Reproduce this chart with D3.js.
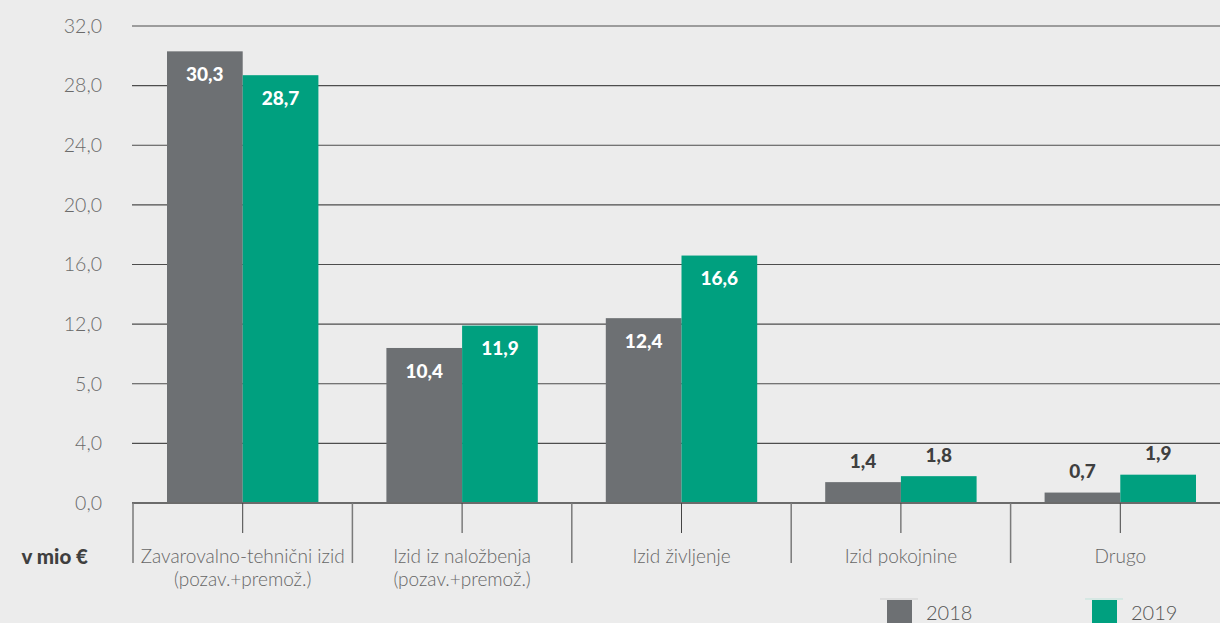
<!DOCTYPE html>
<html><head><meta charset="utf-8">
<script src="https://cdn.jsdelivr.net/npm/d3@7"></script>
<style>
html,body{margin:0;padding:0;background:#ececec;}
svg{display:block;}
</style></head>
<body>
<svg id="chart" width="1220" height="623"></svg>
<script>
const categories = [["Zavarovalno-tehnični izid","(pozav.+premož.)"],["Izid iz naložbenja","(pozav.+premož.)"],["Izid življenje"],["Izid pokojnine"],["Drugo"]];
const seriesNames = ["2018","2019"];
const values2018 = [30.3, 10.4, 12.4, 1.4, 0.7];
const values2019 = [28.7, 11.9, 16.6, 1.8, 1.9];
const yTickValues = [0,4,8,12,16,20,24,28,32];
const yTickLabels = ["0,0","4,0","5,0","12,0","16,0","20,0","24,0","28,0","32,0"];
const unitLabel = "v mio €";
const colors = {"2018":"#6d7073","2019":"#00a07f"};

(function(){
const svg = d3.select("#chart");
const plotLeft = 133, catW = 219.4, plotBottom = 503, plotTop = 26;
const y = d3.scaleLinear().domain([0,32]).range([plotBottom, plotTop]);
const x0 = d3.scaleBand().domain(categories.map((d,i)=>i)).range([plotLeft, plotLeft+catW*5]);
const x1 = d3.scaleBand().domain(seriesNames).range([34, catW-34]);
const font = "Lato, 'Open Sans', sans-serif";

// gridlines
svg.append("g").selectAll("line").data(yTickValues.filter(v=>v>0)).join("line")
  .attr("x1", 132).attr("x2", 1220)
  .attr("y1", d=>y(d)).attr("y2", d=>y(d))
  .attr("stroke", "#4d4d4d").attr("stroke-width", 1.2);

// y tick labels
svg.append("g").selectAll("text").data(yTickValues).join("text")
  .attr("x", 102).attr("y", d=>y(d)).attr("dy","0.35em")
  .attr("text-anchor","end")
  .attr("font-family", font).attr("font-weight",300).attr("font-size",19.5)
  .attr("fill","#6a6a6a")
  .text((d,i)=>yTickLabels[i]);

// bars
const data = [];
categories.forEach((c,i)=>{
  data.push({cat:i, s:"2018", v:values2018[i]});
  data.push({cat:i, s:"2019", v:values2019[i]});
});
svg.append("g").selectAll("rect").data(data).join("rect")
  .attr("x", d=>x0(d.cat)+x1(d.s))
  .attr("width", x1.bandwidth())
  .attr("y", d=>y(d.v))
  .attr("height", d=>plotBottom-y(d.v))
  .attr("fill", d=>colors[d.s]);

// value labels
svg.append("g").selectAll("text").data(data).join("text")
  .attr("x", d=>x0(d.cat)+x1(d.s)+x1.bandwidth()/2)
  .attr("y", d=> d.v>5 ? y(d.v)+23 : y(d.v)-21)
  .attr("dy","0.35em")
  .attr("text-anchor","middle")
  .attr("font-family", font).attr("font-weight",900).attr("font-size",19)
  .attr("fill", d=> d.v>5 ? "#ffffff" : "#3f3f3f")
  .text(d=>d3.format(".1f")(d.v).replace(".",","));

// x axis line
svg.append("line").attr("x1",132).attr("x2",1220).attr("y1",plotBottom).attr("y2",plotBottom)
  .attr("stroke","#6b6b6b").attr("stroke-width",2);

// boundary ticks
svg.append("g").selectAll("line").data(d3.range(6)).join("line")
  .attr("x1", i=>plotLeft+catW*i).attr("x2", i=>plotLeft+catW*i)
  .attr("y1", plotBottom).attr("y2", 563)
  .attr("stroke","#7a7a7a").attr("stroke-width",1.5);
// center ticks
svg.append("g").selectAll("line").data(categories.map((d,i)=>i)).join("line")
  .attr("x1", i=>x0(i)+x0.bandwidth()/2).attr("x2", i=>x0(i)+x0.bandwidth()/2)
  .attr("y1", plotBottom).attr("y2", 533)
  .attr("stroke","#444").attr("stroke-width",1);

// category labels
const cl = svg.append("g").selectAll("text").data(categories.map((c,i)=>({c,i}))).join("text")
  .attr("x", d=>x0(d.i)+x0.bandwidth()/2).attr("y", 563)
  .attr("text-anchor","middle")
  .attr("font-family", font).attr("font-weight",300).attr("font-size",19)
  .attr("fill","#666");
cl.selectAll("tspan").data(d=>d.c.map((t,j)=>({t,j,x:x0(d.i)+x0.bandwidth()/2}))).join("tspan")
  .attr("x", d=>d.x).attr("dy", d=>d.j===0?0:23).text(d=>d.t);

// unit label
svg.append("text").attr("x", 88).attr("y", 564).attr("text-anchor","end")
  .attr("font-family", font).attr("font-weight",900).attr("font-size",20.5)
  .attr("fill","#3f3f3f").text(unitLabel);

// legend
const legX = {"2018":887, "2019":1092};
const lg = svg.append("g").selectAll("g").data(seriesNames).join("g")
  .attr("transform", d=>`translate(${legX[d]},600)`);
lg.append("line").attr("x1",-7).attr("x2",31).attr("y1",-1).attr("y2",-1)
  .attr("stroke", d=>d==="2018"?"#cfcfcf":"#bfe3da").attr("stroke-width",1);
lg.append("rect").attr("x",0).attr("y",0).attr("width",25).attr("height",25)
  .attr("fill", d=>colors[d]);
lg.append("text").attr("x",39).attr("y",20)
  .attr("font-family", font).attr("font-weight",300).attr("font-size",20)
  .attr("fill","#555").text(d=>d);
})();
</script>
</body></html>
